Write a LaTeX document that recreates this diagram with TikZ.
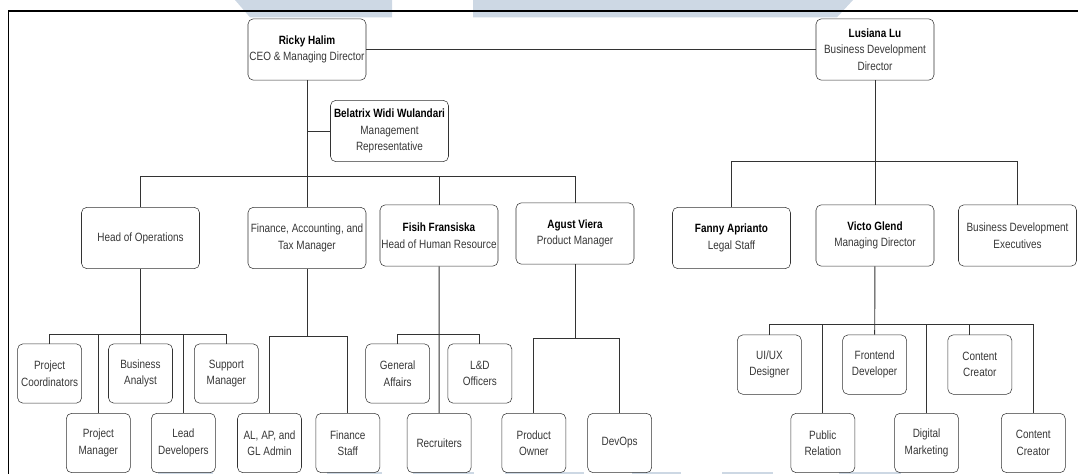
\documentclass[tikz,border=0pt]{standalone}
\usepackage{fontspec}
\setmainfont{Liberation Sans}[FakeStretch=0.83]
\definecolor{wmblue}{RGB}{205,216,228}
\definecolor{txtgray}{RGB}{55,55,55}
\newcommand{\pname}[1]{\textcolor{black}{\textbf{#1}}}

\begin{document}
\begin{tikzpicture}[x=0.75pt,y=-0.75pt,
	big/.style = {draw=black!80, rounded corners=4pt, minimum width=88.5pt, minimum height=46pt, inner sep=0pt, align=center, text=txtgray, font=\fontsize{9}{12.4}\selectfont},
	small/.style = {big, minimum width=48pt, minimum height=44.5pt},
	link/.style = {draw=black!80, line width=0.7pt}]
	\useasboundingbox (0,0) rectangle (1078,474);
	% watermark
	\fill[wmblue] (235,0) -- (392,0) -- (392,17.3) -- (250,17.3) -- cycle;
	\fill[wmblue] (473,0) -- (853,0) -- (837,17.3) -- (473,17.3) -- cycle;
	\foreach \a/\b in {158/213, 327/382, 413/474, 505/584, 632/681, 722/773, 839/901}
		\fill[wmblue] (\a,471.5) rectangle (\b,474);
	% frame
	\draw[line width=0.8pt] (8.6,474) -- (8.6,11) -- (1078,11);
	% top level
	\node[big] (ceo) at (307,49.5) {\pname{Ricky Halim}\\CEO \& Managing Director};
	\node[big] (mr) at (389.5,131) {\pname{Belatrix Widi Wulandari}\\Management\\Representative};
	\node[big] (bdd) at (875,49.5) {\pname{Lusiana Lu}\\Business Development\\Director};
	% managers
	\node[big] (hoo) at (140.5,238) {Head of Operations};
	\node[big] (fin) at (307,238) {Finance, Accounting, and\\Tax Manager};
	\node[big] (hr) at (439,235.5) {\pname{Fisih Fransiska}\\Head of Human Resource};
	\node[big] (pm) at (575,233.5) {\pname{Agust Viera}\\Product Manager};
	\node[big] (legal) at (731.5,238) {\pname{Fanny Aprianto}\\Legal Staff};
	\node[big] (md) at (875,235.5) {\pname{Victo Glend}\\Managing Director};
	\node[big] (bde) at (1017.5,235.5) {Business Development\\Executives};
	% staff
	\node[small] (pc) at (49.6,373.5) {Project\\Coordinators};
	\node[small] (ba) at (140.5,373.5) {Business\\Analyst};
	\node[small] (sm) at (226.4,373.5) {Support\\Manager};
	\node[small] (ga) at (397.7,373.5) {General\\Affairs};
	\node[small] (ld) at (479.9,373.5) {L\&D\\Officers};
	\node[small] (prm) at (98.3,443) {Project\\Manager};
	\node[small] (lead) at (183.4,443) {Lead\\Developers};
	\node[small] (al) at (269.5,443) {AL, AP, and\\GL Admin};
	\node[small] (fs) at (347.8,443) {Finance\\Staff};
	\node[small] (rec) at (439.2,443) {Recruiters};
	\node[small] (po) at (533.8,443) {Product\\Owner};
	\node[small] (dev) at (619.7,443) {DevOps};
	\node[small] (ux) at (769.4,364.6) {UI/UX\\Designer};
	\node[small] (fe) at (874.6,364.6) {Frontend\\Developer};
	\node[small] (cc1) at (979.8,364.6) {Content\\Creator};
	\node[small] (pr) at (822.8,443) {Public\\Relation};
	\node[small] (dm) at (926.6,443) {Digital\\Marketing};
	\node[small] (cc2) at (1033.3,443) {Content\\Creator};
	% bar levels
	\coordinate (b1) at (0,176.5);
	\coordinate (b2) at (0,161.3);
	\coordinate (b3) at (0,334.5);
	\coordinate (b4) at (0,336);
	\coordinate (b5) at (0,338.3);
	\coordinate (b6) at (0,324.1);
	% connectors
	\draw[link] (ceo) -- (bdd);
	\draw[link] (ceo) -- (fin);
	\draw[link] (mr.west) -- (mr.west -| ceo.south);
	\draw[link] (hoo.north) |- (pm.north |- b1) -- (pm.north);
	\draw[link] (hr.north) -- (hr.north |- b1);
	\draw[link] (bdd) -- (md);
	\draw[link] (legal.north) |- (bde.north |- b2) -- (bde.north);
	\draw[link] (hoo) -- (ba);
	\draw[link] (pc.north) |- (sm.north |- b3) -- (sm.north);
	\draw[link] (prm.north) -- (prm.north |- b3);
	\draw[link] (lead.north) -- (lead.north |- b3);
	\draw[link] (fin.south) -- (fin.south |- b4);
	\draw[link] (al.north) |- (fs.north |- b4) -- (fs.north);
	\draw[link] (hr) -- (rec);
	\draw[link] (ga.north) |- (ld.north |- b3) -- (ld.north);
	\draw[link] (pm.south) -- (pm.south |- b5);
	\draw[link] (po.north) |- (dev.north |- b5) -- (dev.north);
	\draw[link] (md) -- (fe);
	\draw[link] (ux.north) |- (cc2.north |- b6) -- (cc2.north);
	\draw[link] (pr.north) -- (pr.north |- b6);
	\draw[link] (dm.north) -- (dm.north |- b6);
	\draw[link] ([xshift=-8pt]cc1.north) -- ([xshift=-8pt]cc1.north |- b6);
\end{tikzpicture}
\end{document}
